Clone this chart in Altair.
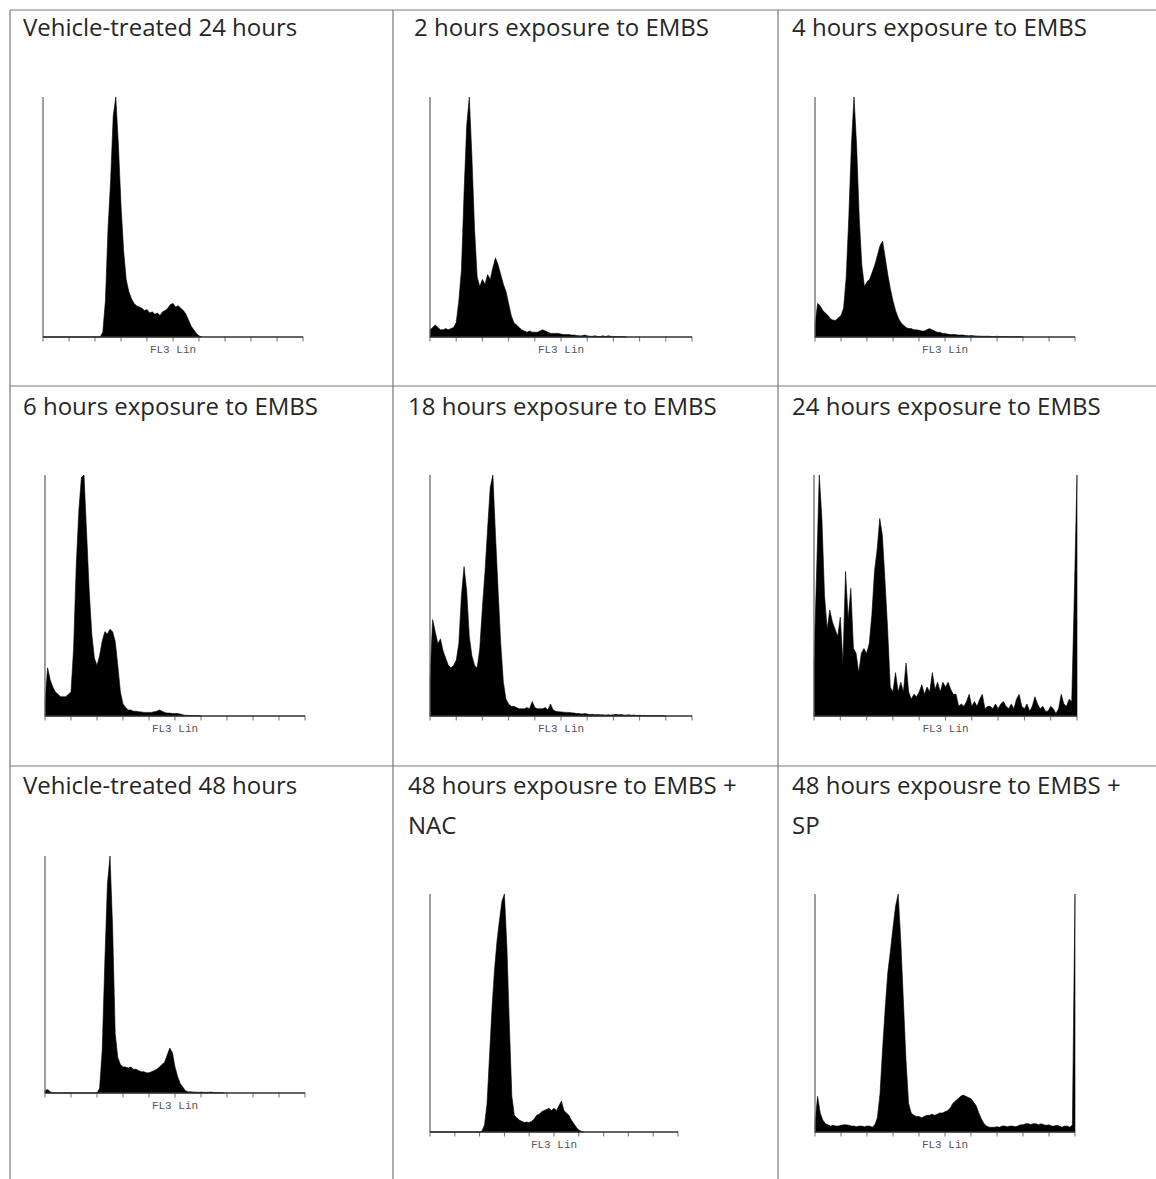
import altair as alt
import pandas as pd

# ---------------- data ----------------
TITLES = [
    ["Vehicle-treated 24 hours"],
    ["2 hours exposure to EMBS"],
    ["4 hours exposure to EMBS"],
    ["6 hours exposure to EMBS"],
    ["18 hours exposure to EMBS"],
    ["24 hours exposure to EMBS"],
    ["Vehicle-treated 48 hours"],
    ["48 hours expousre to EMBS +", "NAC"],
    ["48 hours expousre to EMBS +", "SP"],
]
AXIS_LABEL = "FL3 Lin"
AXIS_TICKS = [0, 100, 200, 300, 400, 500, 600, 700, 800, 900, 1000]
BIN = 10  # channel width of one histogram bin

# counts, % of panel height, one value per bin starting at channel 0
COUNTS_VEH24 = [0]*23 + [2, 15, 45, 65, 92, 100, 80, 55, 36, 24, 19, 16, 14, 13, 12.5, 12, 11,
                         11.5, 10, 10.5, 9.5, 10, 9, 10.5, 11, 12, 13.5, 14, 12.5, 13, 12, 11,
                         9.5, 7, 4.5, 3, 1.5, 0.5, 0]
COUNTS_2H = [3, 4, 5, 4, 3, 3, 3.5, 3, 3.5, 4, 6, 15, 28, 60, 88, 100, 75, 45, 25, 21, 24, 22,
             26, 24, 29, 33, 30, 26, 22, 19, 14, 9, 6, 5, 4, 3, 2.5, 2, 2.5, 2, 2, 2, 2.5, 3,
             2.5, 2, 1.5, 1.5, 1.5, 1.5, 1.2, 1, 1, 1, 0.8, 0.8, 0.6, 0.5, 0.5, 0.8, 0.5, 0.3,
             0.3, 0.5, 0.2, 0.2, 0.5, 0.2, 0.5, 0.3, 0.2, 0.2, 0.2, 0.2, 0.1, 0]
COUNTS_4H = [5, 14, 13, 11, 10, 9, 7.5, 7, 7, 8, 9, 12, 25, 50, 80, 100, 80, 50, 30, 21, 23,
             24, 27, 30, 34, 38, 40, 33, 26, 20, 15, 11, 8, 6, 5, 4, 3.5, 3.5, 3, 3, 2.8, 2.5,
             2.5, 3, 3.5, 3, 2.5, 2, 2, 1.5, 1.5, 1.2, 1, 1, 1, 0.8, 0.8, 0.8, 0.6, 0.5, 0.6,
             0.5, 0.4, 0.4, 0.3, 0.3, 0.3, 0.3, 0.2, 0.2, 0.3, 0.2, 0.2, 0.2, 0.2, 0.1, 0.1,
             0.1, 0.1, 0.1, 0]
COUNTS_6H = [6, 20, 15, 12, 10, 9, 8, 8, 8, 9, 10, 28, 62, 85, 99, 100, 76, 52, 34, 24, 21,
             25, 31, 35, 34, 36, 35, 31, 21, 10, 5, 3.5, 2.5, 2.5, 2, 2, 1.8, 1.7, 1.5, 1.5,
             1.5, 1.5, 1.8, 2, 2.5, 2, 1.5, 1.2, 1.2, 1, 1, 1, 0.8, 0.5, 0.3, 0.3, 0.2, 0.2,
             0.2, 0.1, 0]
COUNTS_18H = [15, 40, 35, 30, 32, 27, 24, 21, 20, 21, 23, 30, 50, 62, 52, 33, 25, 21, 20, 28,
              45, 60, 78, 95, 100, 75, 52, 30, 14, 7, 5, 4, 4, 3.5, 3, 3, 3, 3.5, 3, 6, 3.5,
              3, 3, 3, 3.5, 2.5, 5, 2.5, 2, 1.8, 1.7, 1.6, 1.5, 1.5, 1.3, 1.2, 1, 1, 0.8, 1,
              0.8, 0.6, 0.7, 0.5, 0.6, 0.5, 0.5, 0.4, 0.5, 0.4, 0.5, 0.7, 0.5, 0.6, 0.4, 0.4,
              0.5, 0.3, 0.4, 0.2, 0.3, 0.2, 0.2, 0.1, 0.1, 0.1, 0.1, 0.1, 0.1, 0.1, 0]
COUNTS_24H = [22, 60, 100, 82, 50, 36, 44, 39, 36, 33, 41, 22, 60, 40, 53, 28, 26, 18, 26, 28,
              26, 30, 42, 60, 69, 82, 75, 56, 36, 12, 10, 18, 10, 14, 10, 22, 10, 7, 9, 8, 10,
              13, 9, 12, 10, 18, 11, 14, 10, 14, 12, 14, 11, 9, 9, 4, 5, 4, 6, 9, 4, 6, 4, 7,
              9, 3, 4, 4, 3, 5, 3, 5, 6, 4, 3, 5, 3, 7, 9, 4, 3, 5, 2, 4, 8, 5, 3, 4, 2, 2, 4,
              3, 1, 3, 9, 5, 4, 7, 6, 51, 100]
COUNTS_VEH48 = [1, 1.5, 0.5] + [0]*18 + [2, 18, 55, 88, 100, 70, 25, 15, 12, 11, 11, 10.5, 11,
                                         10, 10, 9.5, 9, 9, 8.5, 8.5, 9, 9.5, 10, 11, 12, 13,
                                         16, 19, 17, 11, 7, 4, 2.5, 1, 0.5, 0.5, 0.4, 0.4, 0.3,
                                         0.4, 0.3, 0.3, 0.3, 0.4, 0.2, 0.2, 0.2, 0.1, 0]
COUNTS_NAC = [0]*21 + [0.5, 3, 12, 32, 52, 68, 80, 89, 97, 100, 78, 45, 15, 7, 6, 5, 4.5, 4,
                       4.2, 4, 4.5, 5.5, 7, 7.5, 8.5, 9, 9.5, 10, 9, 10, 9, 11, 13, 9, 8, 7, 5,
                       3.5, 2, 0.8, 0.3, 0]
COUNTS_SP = [4, 15, 8, 5, 3.5, 3, 2.5, 2.8, 2.5, 2.5, 2.8, 3, 3, 2.8, 2.5, 2.5, 2.2, 2.5, 2.5,
             2.2, 2.5, 2.5, 2, 3, 6, 16, 35, 52, 67, 76, 86, 95, 100, 80, 55, 30, 12, 8, 7,
             6.5, 6.5, 6, 6.5, 7, 7, 7.5, 7, 7.5, 8, 8, 8.5, 9, 10, 12, 13, 14, 15, 15.5, 15,
             14.5, 14, 12.5, 11, 8, 5.5, 3.5, 2.5, 2, 2, 2, 2.2, 2, 2.5, 2.5, 2.2, 2.5, 2.5,
             2.2, 2.5, 3, 3, 3.5, 3.5, 3.2, 3.5, 3.5, 3, 3.5, 3, 2.8, 3, 2.5, 2.5, 2.8, 2.5,
             2, 2.5, 2.5, 2, 3, 100]

PANEL_COUNTS = [COUNTS_VEH24, COUNTS_2H, COUNTS_4H, COUNTS_6H, COUNTS_18H, COUNTS_24H,
                COUNTS_VEH48, COUNTS_NAC, COUNTS_SP]

# ---------------- layout (pixels) ----------------
# plot box per panel: x-left, x-right, y-top, y-baseline
PANEL_BOX = [
    (43, 303, 97, 337), (430, 692, 97, 337), (815, 1075, 97, 337),
    (45, 305, 475, 716), (430, 692, 475, 716), (814, 1077, 475, 716),
    (45, 305, 856, 1093), (430, 678, 894, 1132), (815, 1075, 894, 1132),
]
TITLE_POS = [
    (23, 29), (414, 29), (792, 29),
    (23, 408), (408, 408), (792, 408),
    (23, 787), (408, 787), (792, 787),
]
W, H = 1156, 1179
TITLE_FONT = "Open Sans"
GRID_COLOR = "#7a7a7a"


def panel(i):
    counts = PANEL_COUNTS[i]
    x0, x1, ytop, ybase = PANEL_BOX[i]
    xs = alt.Scale(domain=[0, 1000], range=[x0, x1], nice=False, zero=False)
    ys = alt.Scale(domain=[0, 100], range=[ybase, ytop], nice=False)
    hist = pd.DataFrame({"channel": [k * BIN for k in range(len(counts))], "count": counts})
    area = alt.Chart(hist).mark_area(color="#000000", interpolate="linear",
                                     stroke="#000000", strokeWidth=0.6).encode(
        x=alt.X("channel:Q", scale=xs, axis=None),
        y=alt.Y("count:Q", scale=ys, axis=None),
    )
    yaxis = alt.Chart(pd.DataFrame({"c": [0], "lo": [0], "hi": [100]})).mark_rule(
        color="#6a6a6a", strokeWidth=1.3).encode(
        x=alt.X("c:Q", scale=xs, axis=None),
        y=alt.Y("lo:Q", scale=ys, axis=None),
        y2="hi:Q",
    )
    xaxis = alt.Chart(pd.DataFrame({"a": [0], "b": [1000], "v": [0]})).mark_rule(
        color="#333333", strokeWidth=1.3).encode(
        x=alt.X("a:Q", scale=xs, axis=None),
        x2="b:Q",
        y=alt.Y("v:Q", scale=ys, axis=None),
    )
    ticks = alt.Chart(pd.DataFrame({"t": AXIS_TICKS, "v": [0] * len(AXIS_TICKS)})).mark_tick(
        orient="vertical", size=5, thickness=1, yOffset=2, color="#333333").encode(
        x=alt.X("t:Q", scale=xs, axis=None),
        y=alt.Y("v:Q", scale=ys, axis=None),
    )
    label = alt.Chart(pd.DataFrame({"m": [500], "v": [0], "s": [AXIS_LABEL]})).mark_text(
        font="Liberation Mono", fontSize=11, color="#555555",
        dy=13, baseline="middle", align="center").encode(
        x=alt.X("m:Q", scale=xs, axis=None),
        y=alt.Y("v:Q", scale=ys, axis=None),
        text="s:N",
    )
    tx, ty = TITLE_POS[i]
    title = alt.Chart(pd.DataFrame({"d": [0]})).mark_text(
        font=TITLE_FONT, fontSize=24, color="#262626", align="left", baseline="middle",
        lineHeight=40).encode(
        x=alt.value(tx), y=alt.value(ty),
        text=alt.value(TITLES[i] if len(TITLES[i]) > 1 else TITLES[i][0]),
    )
    return alt.layer(area, yaxis, xaxis, ticks, label, title)


# table borders
def hline(y, xa, xb):
    return alt.Chart(pd.DataFrame({"d": [0]})).mark_rule(
        color=GRID_COLOR, strokeWidth=1.2).encode(
        x=alt.value(xa), x2=alt.value(xb), y=alt.value(y))


def vline(x, ya, yb):
    return alt.Chart(pd.DataFrame({"d": [0]})).mark_rule(
        color=GRID_COLOR, strokeWidth=1.2).encode(
        x=alt.value(x), y=alt.value(ya), y2=alt.value(yb))


borders = [
    hline(10, 10, W), hline(386, 10, W), hline(766, 10, W),
    vline(10, 10, H), vline(393, 10, H), vline(778, 10, H),
]

chart = alt.layer(*[panel(i) for i in range(9)], *borders).resolve_scale(
    x="independent", y="independent"
).properties(
    width=W, height=H, padding=0, autosize=alt.AutoSizeParams(type="none"),
    background="white",
).configure_view(stroke=None)

chart.save("out.html", embed_options={"renderer": "svg", "actions": False})
